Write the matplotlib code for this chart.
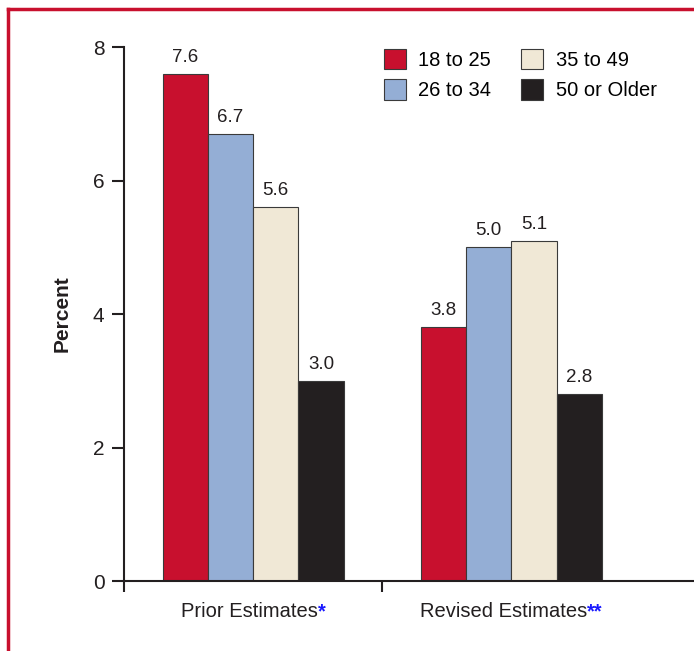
import matplotlib
matplotlib.use("Agg")
import matplotlib.pyplot as plt
from matplotlib.lines import Line2D
from matplotlib.patches import Patch
from matplotlib.transforms import offset_copy
import numpy as np

plt.rcParams["font.family"] = ["Liberation Sans", "DejaVu Sans"]

grupos = ["Prior Estimates", "Revised Estimates"]
marcas = ["*", "**"]
faixas = ["18 to 25", "26 to 34", "35 to 49", "50 or Older"]
cores = ["#C8102E", "#94AED5", "#F0E8D6", "#231F20"]
valores = [
    [7.6, 3.8],   # 18 to 25
    [6.7, 5.0],   # 26 to 34
    [5.6, 5.1],   # 35 to 49
    [3.0, 2.8],   # 50 or Older
]

fig = plt.figure(figsize=(6.94, 6.51), dpi=100)
ax = fig.add_axes([0.1787, 0.1075, 0.8213, 0.8203])

x = np.arange(len(grupos))
larg = 0.175
for i, (vals, cor) in enumerate(zip(valores, cores)):
    pos = x + (i - 1.5) * larg
    ax.bar(pos, vals, width=larg, color=cor, edgecolor="#3a3a3a", linewidth=0.8)
    for px, v in zip(pos, vals):
        ax.text(px, v + 0.12, f"{v:.1f}", ha="center", va="bottom",
                fontsize=13.5, color="#231F20")

ax.set_xlim(-0.5, 1.707)
ax.set_ylim(0, 8)
ax.set_yticks([0, 2, 4, 6, 8])
ax.tick_params(axis="y", direction="out", length=9, width=1.5,
               labelsize=15, colors="#231F20", pad=5)
ax.set_xticks([-0.5, 0.5])
ax.set_xticklabels([])
ax.tick_params(axis="x", direction="out", length=8, width=1.5, colors="#231F20")
for s in ["top", "right"]:
    ax.spines[s].set_visible(False)
for s in ["left", "bottom"]:
    ax.spines[s].set_linewidth(1.5)
    ax.spines[s].set_color("#231F20")

ax.set_ylabel("Percent", fontsize=15, fontweight="bold", color="#231F20",
              labelpad=15)

# rotulos dos grupos com asterisco azul, conjunto centralizado no grupo
fig.canvas.draw()
rend = fig.canvas.get_renderer()
for xi, nome, m in zip(x, grupos, marcas):
    t = ax.text(xi, -0.32, nome, ha="center", va="top", fontsize=14.5,
                color="#231F20")
    a = ax.text(xi, -0.32, m, ha="left", va="top", fontsize=14.5,
                color="#1a1aff", fontweight="bold")
    wt = t.get_window_extent(rend).width
    wa = a.get_window_extent(rend).width
    t.set_transform(offset_copy(ax.transData, fig=fig, x=-wa / 2, units="dots"))
    a.set_transform(offset_copy(ax.transData, fig=fig, x=wt / 2 - wa / 2,
                                units="dots"))

handles = [Patch(facecolor=c, edgecolor="#3a3a3a", linewidth=0.8) for c in cores]
fig.legend(handles, faixas, loc="upper left", bbox_to_anchor=(0.527, 0.953),
           ncol=2, frameon=False, fontsize=14.5, handlelength=1.1,
           handleheight=1.2, columnspacing=1.5, handletextpad=0.6,
           labelspacing=0.45)

# moldura vermelha (topo e esquerda)
fig.add_artist(Line2D([0.0115, 1.0], [0.9855, 0.9855], color="#C8102E",
                      linewidth=2.5, transform=fig.transFigure))
fig.add_artist(Line2D([0.0115, 0.0115], [0.0, 0.9855], color="#C8102E",
                      linewidth=2.5, transform=fig.transFigure))

fig.savefig("out.png", dpi=100)
